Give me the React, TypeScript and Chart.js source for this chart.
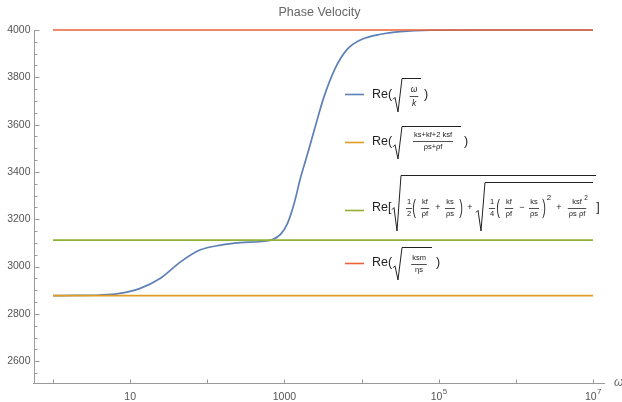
import React, { useEffect, useRef } from "react";
import { Chart, registerables } from "chart.js";

Chart.register(...registerables);

const FONT = '"Liberation Sans", Arial, Helvetica, sans-serif';

const chartTitle = "Phase Velocity";
const xAxisLabel = "ω";

// Re(sqrt(ω/k))
const omegaSamples = [1, 2, 4, 7, 13, 25, 45, 80, 150, 270, 500, 700, 890, 1100, 1350, 1600, 2000, 2500, 3200, 4500, 6500, 10000, 17700, 32000, 80000, 300000, 1000000, 10000000];
const phaseVelocitySamples = [2877, 2878, 2880, 2886, 2906, 2952, 3020, 3070, 3091, 3101, 3106, 3114, 3136, 3184, 3272, 3370, 3478, 3590, 3710, 3835, 3918, 3960, 3982, 3993, 3999, 4000, 4000, 4000];

// constant limits
const omegaEnds = [1, 10000000];
const lowFreqLimit = [2877, 2877];
const biotLimit = [3112, 3112];
const shearLimit = [4000, 4000];

const seriesColors = ["#5E81B5", "#E19C24", "#8FB032", "#EB6235"];

const xTickValues = [1, 10, 100, 1000, 10000, 100000, 1000000, 10000000];
const xTickLabels = ["", "10", "", "1000", "", "10^5", "", "10^7"];
const yTickValues = [2600, 2800, 3000, 3200, 3400, 3600, 3800, 4000];
const yTickLabels = ["2600", "2800", "3000", "3200", "3400", "3600", "3800", "4000"];

const X_MIN = 0.567;
const X_MAX = 1.431e7;
const Y_MIN = 2508;
const Y_MAX = 4000;

const toXY = (xs: number[], ys: number[]) => xs.map((x, i) => ({ x, y: ys[i] }));

function txt(ctx: CanvasRenderingContext2D, s: string, x: number, y: number, size: number, opts: { align?: CanvasTextAlign; italic?: boolean; color?: string } = {}) {
  ctx.font = `${opts.italic ? "italic " : ""}${size}px ${FONT}`;
  ctx.textAlign = opts.align || "left";
  ctx.textBaseline = "middle";
  ctx.fillStyle = opts.color || "#222";
  ctx.fillText(s, x, y);
}

function tall(ctx: CanvasRenderingContext2D, s: string, x: number, y: number, size: number, sy: number) {
  ctx.save();
  ctx.translate(x, y);
  ctx.scale(1, sy);
  txt(ctx, s, 0, 0, size, { align: "center", color: "#333" });
  ctx.restore();
}

function frac(ctx: CanvasRenderingContext2D, num: string, den: string, cx: number, barY: number, size: number, italic = false) {
  ctx.font = `${italic ? "italic " : ""}${size}px ${FONT}`;
  const w = Math.max(ctx.measureText(num).width, ctx.measureText(den).width) + 2;
  txt(ctx, num, cx, barY - size * 0.8, size, { align: "center", italic });
  txt(ctx, den, cx, barY + size * 0.85, size, { align: "center", italic });
  ctx.beginPath();
  ctx.moveTo(cx - w / 2, barY + 0.5);
  ctx.lineTo(cx + w / 2, barY + 0.5);
  ctx.strokeStyle = "#222";
  ctx.lineWidth = 0.8;
  ctx.stroke();
}

function radical(ctx: CanvasRenderingContext2D, x: number, top: number, bottom: number, right: number) {
  const mid = top + (bottom - top) * 0.6;
  ctx.beginPath();
  ctx.moveTo(x, mid + 1);
  ctx.lineTo(x + 2, mid - 1);
  ctx.lineTo(x + 5, bottom);
  ctx.lineTo(x + 9, top + 0.5);
  ctx.lineTo(right, top + 0.5);
  ctx.strokeStyle = "#222";
  ctx.lineWidth = 1;
  ctx.stroke();
}

const axesPlugin = {
  id: "mmaAxes",
  beforeDatasetsDraw(chart: any) {
    const { ctx, chartArea: a, scales } = chart;
    const x = scales.x;
    const y = scales.y;
    ctx.save();
    ctx.strokeStyle = "#9a9a9a";
    ctx.lineWidth = 1;
    const ax = Math.round(a.left) + 0.5;
    const ay = Math.round(a.bottom) + 0.5;
    ctx.beginPath();
    ctx.moveTo(ax, a.top);
    ctx.lineTo(ax, ay);
    ctx.moveTo(a.left - 1, ay);
    ctx.lineTo(a.right, ay);
    ctx.stroke();

    // y minor ticks
    ctx.beginPath();
    for (let v = 2550; v <= Y_MAX; v += 50) {
      if (v % 200 === 0) continue;
      const py = Math.round(y.getPixelForValue(v)) + 0.5;
      ctx.moveTo(ax, py);
      ctx.lineTo(ax + 3, py);
    }
    ctx.stroke();
    // y major ticks
    ctx.beginPath();
    yTickValues.forEach((v) => {
      const py = Math.round(y.getPixelForValue(v)) + 0.5;
      ctx.moveTo(ax, py);
      ctx.lineTo(ax + 5, py);
    });
    ctx.stroke();
    yTickValues.forEach((v, i) => {
      const py = y.getPixelForValue(v);
      txt(ctx, yTickLabels[i], ax - 4, py, 10.5, { align: "right", color: "#555" });
    });

    // x ticks
    ctx.beginPath();
    xTickValues.forEach((v) => {
      const px = Math.round(x.getPixelForValue(v)) + 0.5;
      ctx.moveTo(px, ay);
      ctx.lineTo(px, ay - 4);
    });
    ctx.stroke();
    xTickValues.forEach((v, i) => {
      const lab = xTickLabels[i];
      if (!lab) return;
      const px = x.getPixelForValue(v);
      const ly = ay + 13.5;
      if (lab.includes("^")) {
        const [b, e] = lab.split("^");
        ctx.font = `10.5px ${FONT}`;
        const wb = ctx.measureText(b).width;
        ctx.font = `8px ${FONT}`;
        const we = ctx.measureText(e).width;
        const start = px - (wb + we) / 2;
        txt(ctx, b, start, ly, 10.5, { color: "#555" });
        txt(ctx, e, start + wb + 0.5, ly - 5, 8, { color: "#555" });
      } else {
        txt(ctx, lab, px, ly, 10.5, { align: "center", color: "#555" });
      }
    });
    txt(ctx, xAxisLabel, a.right + 9, ay - 1, 12, { italic: true, color: "#666" });

    // title
    txt(ctx, chartTitle, (a.left + a.right) / 2, 13, 12.5, { align: "center", color: "#666" });
    ctx.restore();
  },
};

const legendPlugin = {
  id: "mmaLegend",
  afterDraw(chart: any) {
    const { ctx } = chart;
    ctx.save();
    const swatch = (c: string, yy: number) => {
      ctx.beginPath();
      ctx.moveTo(345, yy + 0.5);
      ctx.lineTo(364, yy + 0.5);
      ctx.strokeStyle = c;
      ctx.lineWidth = 1.6;
      ctx.stroke();
    };
    // 1
    swatch(seriesColors[0], 94);
    txt(ctx, "Re(", 372, 95, 12.5);
    radical(ctx, 393, 78, 112, 421);
    frac(ctx, "ω", "k", 414, 96, 8.5, true);
    txt(ctx, ")", 424, 95, 12.5);
    // 2
    swatch(seriesColors[1], 142);
    txt(ctx, "Re(", 372, 142, 12.5);
    radical(ctx, 393, 126, 159, 461);
    frac(ctx, "ks+kf+2 ksf", "ρs+ρf", 433, 141, 7.5);
    txt(ctx, ")", 464, 142, 12.5);
    // 3
    swatch(seriesColors[2], 210);
    txt(ctx, "Re[", 372, 208, 12.5);
    radical(ctx, 392, 175, 231, 596);
    frac(ctx, "1", "2", 409, 208, 7.5);
    tall(ctx, "(", 414, 208, 11, 1.9);
    frac(ctx, "kf", "ρf", 425, 208, 7.5);
    txt(ctx, "+", 438, 208, 9, { align: "center" });
    frac(ctx, "ks", "ρs", 450, 208, 7.5);
    tall(ctx, ")", 461, 208, 11, 1.9);
    txt(ctx, "+", 470, 208, 9, { align: "center" });
    radical(ctx, 476, 182, 231, 593);
    frac(ctx, "1", "4", 492, 208, 7.5);
    tall(ctx, "(", 498, 208, 11, 1.9);
    frac(ctx, "kf", "ρf", 509, 208, 7.5);
    txt(ctx, "−", 522, 208, 9, { align: "center" });
    frac(ctx, "ks", "ρs", 534, 208, 7.5);
    tall(ctx, ")", 544, 208, 11, 1.9);
    txt(ctx, "2", 549, 198, 8, { align: "center" });
    txt(ctx, "+", 559, 208, 9, { align: "center" });
    frac(ctx, "ksf", "ρs ρf", 577, 208, 7.5);
    txt(ctx, "2", 586, 198, 6.5, { align: "center" });
    txt(ctx, "]", 598, 208, 12.5, { align: "center" });
    // 4
    swatch(seriesColors[3], 263);
    txt(ctx, "Re(", 372, 263, 12.5);
    radical(ctx, 393, 247, 280, 432);
    frac(ctx, "ksm", "ηs", 419, 264, 7.5);
    txt(ctx, ")", 436, 263, 12.5);
    ctx.restore();
  },
};

export default function App() {
  const ref = useRef<HTMLCanvasElement | null>(null);
  useEffect(() => {
    if (!ref.current) return;
    const common = { pointRadius: 0, fill: false, clip: false as any, borderWidth: 1.7 };
    const chart = new Chart(ref.current, {
      type: "line",
      data: {
        datasets: [
          { ...common, label: "Re(√(ω/k))", data: toXY(omegaSamples, phaseVelocitySamples), borderColor: seriesColors[0], cubicInterpolationMode: "monotone", order: 4 },
          { ...common, label: "Re(√((ks+kf+2 ksf)/(ρs+ρf)))", data: toXY(omegaEnds, lowFreqLimit), borderColor: seriesColors[1], order: 3 },
          { ...common, label: "Re[√(...)]", data: toXY(omegaEnds, biotLimit), borderColor: seriesColors[2], order: 2 },
          { ...common, label: "Re(√(ksm/ηs))", data: toXY(omegaEnds, shearLimit), borderColor: seriesColors[3], order: 1 },
        ] as any,
      },
      options: {
        animation: false,
        responsive: false,
        devicePixelRatio: 1,
        layout: { padding: { left: 0, right: 17, top: 30, bottom: 0 } },
        plugins: { legend: { display: false }, title: { display: false }, tooltip: { enabled: false } },
        events: [],
        scales: {
          x: {
            type: "logarithmic",
            min: X_MIN,
            max: X_MAX,
            grid: { display: false },
            border: { display: false },
            ticks: { display: false },
            afterFit: (s: any) => { s.height = 19; },
          },
          y: {
            type: "linear",
            min: Y_MIN,
            max: Y_MAX,
            grid: { display: false },
            border: { display: false },
            ticks: { display: false },
            afterFit: (s: any) => { s.width = 34; },
          },
        },
      } as any,
      plugins: [axesPlugin, legendPlugin],
    });
    return () => chart.destroy();
  }, []);
  return (
    <div style={{ position: "fixed", left: 0, top: 0, width: 622, height: 402, background: "#fff" }}>
      <canvas ref={ref} width={622} height={402} style={{ display: "block" }} />
    </div>
  );
}
